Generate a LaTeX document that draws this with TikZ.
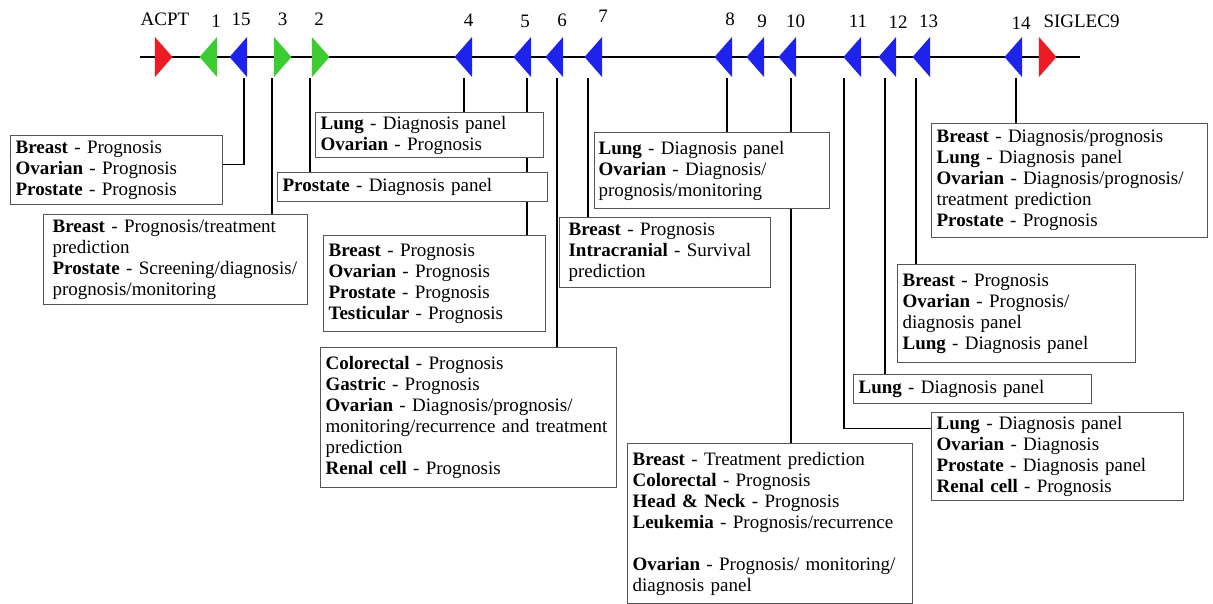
\documentclass[tikz,border=0pt]{standalone}
\usepackage{fontspec}
\setmainfont{Liberation Serif}
\usetikzlibrary{shapes.geometric,backgrounds}

\definecolor{genered}{RGB}{237,28,36}
\definecolor{genegreen}{RGB}{60,205,50}
\definecolor{geneblue}{RGB}{30,35,235}
\definecolor{boxgray}{RGB}{85,85,85}

\begin{document}
\begin{tikzpicture}[x=1pt, y=-1pt,
        font=\fontsize{19}{21}\selectfont,
        gene/.style={isosceles triangle, isosceles triangle stretches,
                     minimum width=40pt, minimum height=17.5pt,
                     inner sep=0pt, anchor=apex},
        geneplus/.style={gene, shape border rotate=0},
        geneminus/.style={gene, shape border rotate=180},
        genelabel/.style={inner sep=0pt},
        stemline/.style={line width=1.3pt},
        infobox/.style={draw=boxgray, line width=1.2pt, fill=white,
                        anchor=north west, align=left,
                        inner xsep=5pt, inner ysep=2pt}]
    \useasboundingbox (0,0) rectangle (1213,603);

    \coordinate (axisL) at (140,57);
    \coordinate (axisR) at (1080,57);
    \draw[stemline] (axisL) -- (axisR);

    \node[geneplus,  fill=genered]   (gACPT) at (173,57) {};
    \node[geneminus, fill=genegreen] (g1)    at (199,57) {};
    \node[geneminus, fill=geneblue]  (g15)   at (229,57) {};
    \node[geneplus,  fill=genegreen] (g3)    at (292,57) {};
    \node[geneplus,  fill=genegreen] (g2)    at (330,57) {};
    \node[geneminus, fill=geneblue]  (g4)    at (454,57) {};
    \node[geneminus, fill=geneblue]  (g5)    at (513,57) {};
    \node[geneminus, fill=geneblue]  (g6)    at (545,57) {};
    \node[geneminus, fill=geneblue]  (g7)    at (584,57) {};
    \node[geneminus, fill=geneblue]  (g8)    at (714,57) {};
    \node[geneminus, fill=geneblue]  (g9)    at (746,57) {};
    \node[geneminus, fill=geneblue]  (g10)   at (778,57) {};
    \node[geneminus, fill=geneblue]  (g11)   at (843,57) {};
    \node[geneminus, fill=geneblue]  (g12)   at (878,57) {};
    \node[geneminus, fill=geneblue]  (g13)   at (912,57) {};
    \node[geneminus, fill=geneblue]  (g14)   at (1004,57) {};
    \node[geneplus,  fill=genered]   (gSIG)  at (1057,57) {};

    \node[genelabel] (lACPT) at (165,19)    {ACPT};
    \node[genelabel] (l1)    at (216,21.5)  {1};
    \node[genelabel] (l15)   at (241,19)    {15};
    \node[genelabel] (l3)    at (282.5,19)  {3};
    \node[genelabel] (l2)    at (319,19)    {2};
    \node[genelabel] (l4)    at (468.5,20)  {4};
    \node[genelabel] (l5)    at (525,21)    {5};
    \node[genelabel] (l6)    at (562,20.5)  {6};
    \node[genelabel] (l7)    at (603,16.5)  {7};
    \node[genelabel] (l8)    at (730,19)    {8};
    \node[genelabel] (l9)    at (762,21)    {9};
    \node[genelabel] (l10)   at (795.5,21)  {10};
    \node[genelabel] (l11)   at (858,21)    {11};
    \node[genelabel] (l12)   at (898,22)    {12};
    \node[genelabel] (l13)   at (928.5,21)  {13};
    \node[genelabel] (l14)   at (1021,23)   {14};
    \node[genelabel] (lSIG)  at (1081.5,21) {SIGLEC9};

    \node[infobox, text width=202pt, minimum height=69pt] (bA) at (10,135)
        {\textbf{Breast} - Prognosis\\
         \textbf{Ovarian} - Prognosis\\
         \textbf{Prostate} - Prognosis};
    \node[infobox, inner xsep=9pt, text width=246pt, minimum height=90pt] (bB) at (43,214)
        {\textbf{Breast} - Prognosis/treatment\\
         prediction\\
         \textbf{Prostate} - Screening/diagnosis/\\
         prognosis/monitoring};
    \node[infobox, text width=218pt, minimum height=45pt] (bD) at (315,112)
        {\textbf{Lung} - Diagnosis panel\\
         \textbf{Ovarian} - Prognosis};
    \node[infobox, text width=260pt, minimum height=29pt] (bC) at (277,172)
        {\textbf{Prostate} - Diagnosis panel};
    \node[infobox, text width=212pt, minimum height=96pt] (bE) at (323,235)
        {\textbf{Breast} - Prognosis\\
         \textbf{Ovarian} - Prognosis\\
         \textbf{Prostate} - Prognosis\\
         \textbf{Testicular} - Prognosis};
    \node[infobox, text width=286pt, minimum height=140pt] (bF) at (320,347)
        {\textbf{Colorectal} - Prognosis\\
         \textbf{Gastric} - Prognosis\\
         \textbf{Ovarian} - Diagnosis/prognosis/\\
         monitoring/recurrence and treatment\\
         prediction\\
         \textbf{Renal cell} - Prognosis};
    \node[infobox, inner xsep=9pt, text width=193pt, minimum height=70pt] (bG) at (559,217)
        {\textbf{Breast} - Prognosis\\
         \textbf{Intracranial} - Survival\\
         prediction};
    \node[infobox, inner xsep=4pt, text width=227pt, minimum height=76pt] (bH) at (594,132)
        {\textbf{Lung} - Diagnosis panel\\
         \textbf{Ovarian} - Diagnosis/\\
         prognosis/monitoring};
    \node[infobox, text width=275pt, minimum height=160pt] (bI) at (627,443)
        {\textbf{Breast} - Treatment prediction\\
         \textbf{Colorectal} - Prognosis\\
         \textbf{Head \& Neck} - Prognosis\\
         \textbf{Leukemia} - Prognosis/recurrence\\[21pt]
         \textbf{Ovarian} - Prognosis/ monitoring/\\
         diagnosis panel};
    \node[infobox, text width=242pt, minimum height=88pt] (bJ) at (931,412)
        {\textbf{Lung} - Diagnosis panel\\
         \textbf{Ovarian} - Diagnosis\\
         \textbf{Prostate} - Diagnosis panel\\
         \textbf{Renal cell} - Prognosis};
    \node[infobox, text width=228pt, minimum height=29pt] (bK) at (853,374)
        {\textbf{Lung} - Diagnosis panel};
    \node[infobox, text width=228pt, minimum height=98pt] (bL) at (897,264)
        {\textbf{Breast} - Prognosis\\
         \textbf{Ovarian} - Prognosis/\\
         diagnosis panel\\
         \textbf{Lung} - Diagnosis panel};
    \node[infobox, text width=266pt, minimum height=114pt] (bM) at (931,123)
        {\textbf{Breast} - Diagnosis/prognosis\\
         \textbf{Lung} - Diagnosis panel\\
         \textbf{Ovarian} - Diagnosis/prognosis/\\
         treatment prediction\\
         \textbf{Prostate} - Prognosis};

    \coordinate (s15) at (244,78);
    \coordinate (s3)  at (272,78);
    \coordinate (s2)  at (310,78);
    \coordinate (s4)  at (464,78);
    \coordinate (s5)  at (527,78);
    \coordinate (s6)  at (557,78);
    \coordinate (s7)  at (588,78);
    \coordinate (s8)  at (727,78);
    \coordinate (s10) at (791,78);
    \coordinate (s11) at (844,78);
    \coordinate (s12) at (885,78);
    \coordinate (s13) at (916,78);
    \coordinate (s14) at (1016,78);

    \begin{scope}[on background layer]
        \draw[stemline] (s15) |- ([yshift=5.5pt]bA.east);
        \draw[stemline] (s3)  -- (s3  |- bB.north);
        \draw[stemline] (s2)  -- (s2  |- bC.north);
        \draw[stemline] (s4)  -- (s4  |- bD.north);
        \draw[stemline] (s5)  -- (s5  |- bE.north);
        \draw[stemline] (s6)  -- (s6  |- bF.north);
        \draw[stemline] (s7)  -- (s7  |- bG.north);
        \draw[stemline] (s8)  -- (s8  |- bH.north);
        \draw[stemline] (s10) -- (s10 |- bI.north);
        \draw[stemline] (s11) |- ([yshift=28pt]bJ.west);
        \draw[stemline] (s12) -- (s12 |- bK.north);
        \draw[stemline] (s13) -- (s13 |- bL.north);
        \draw[stemline] (s14) -- (s14 |- bM.north);
    \end{scope}
\end{tikzpicture}
\end{document}
